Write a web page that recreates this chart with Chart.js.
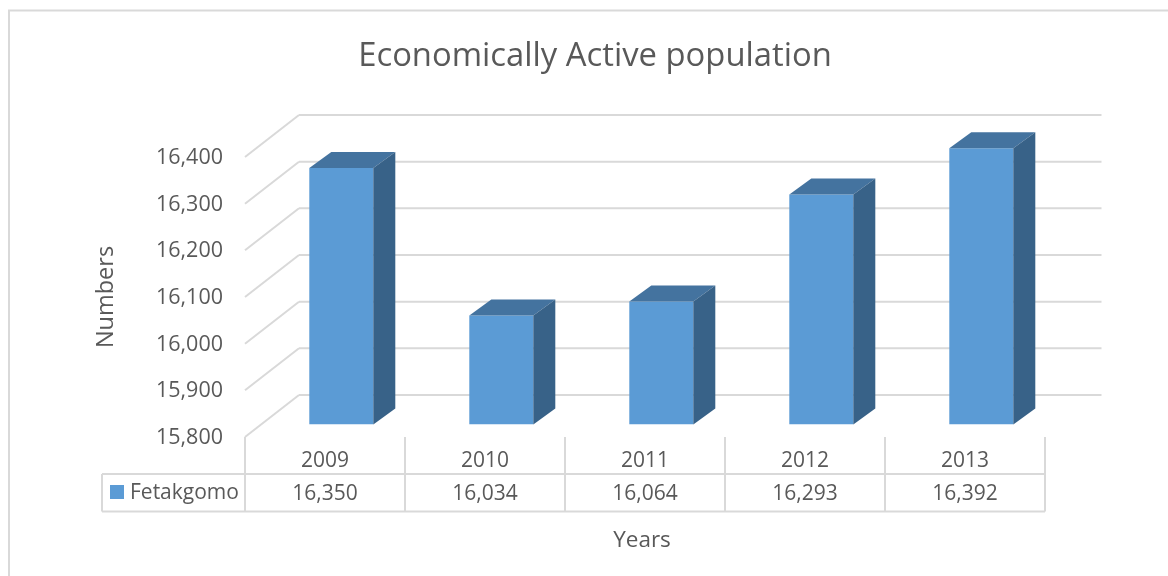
<!DOCTYPE html>
<html>
<head>
<meta charset="utf-8">
<title>Economically Active population</title>
<script src="https://cdn.jsdelivr.net/npm/chart.js@4"></script>
<style>
  html, body { margin: 0; padding: 0; background: #fff; overflow: hidden; }
  canvas { display: block; }
</style>
</head>
<body>
<canvas id="chart" width="1168" height="576"></canvas>
<script>
const years = ['2009', '2010', '2011', '2012', '2013'];
const fetakgomo = [16350, 16034, 16064, 16293, 16392];
const seriesName = 'Fetakgomo';
const chartTitle = 'Economically Active population';
const yTicks = [15800, 15900, 16000, 16100, 16200, 16300, 16400];

const textColor = '#595959';
const gridColor = '#d9d9d9';
const fontName = '"Open Sans", sans-serif';

// 3D look: how far the back wall and the bars sit from the front plane
const wallDx = 54, wallDy = -42;
const barDx = 16.3, barDy = -12.4;
const depthDx = 22, depthDy = -16;

function line(ctx, x1, y1, x2, y2) {
  ctx.beginPath();
  ctx.moveTo(x1, y1);
  ctx.lineTo(x2, y2);
  ctx.stroke();
}

function face(ctx, points, color) {
  ctx.fillStyle = color;
  ctx.beginPath();
  points.forEach((p, i) => i ? ctx.lineTo(p[0], p[1]) : ctx.moveTo(p[0], p[1]));
  ctx.closePath();
  ctx.fill();
}

const fake3d = {
  id: 'fake3d',
  beforeDraw(chart) {
    // outer frame, only top and left show in the picture
    const ctx = chart.ctx;
    ctx.save();
    ctx.strokeStyle = gridColor;
    ctx.lineWidth = 2;
    line(ctx, 9, 576, 9, 10.5);
    line(ctx, 8, 10.5, 1168, 10.5);
    ctx.restore();
  },
  beforeDatasetsDraw(chart) {
    const ctx = chart.ctx;
    const area = chart.chartArea;
    const y = chart.scales.y;
    ctx.save();
    ctx.strokeStyle = gridColor;
    ctx.lineWidth = 2;
    yTicks.forEach(t => {
      const py = y.getPixelForValue(t);
      line(ctx, area.left, py, area.left + wallDx, py + wallDy);
      line(ctx, area.left + wallDx, py + wallDy, 1101.5, py + wallDy);
    });
    ctx.restore();
    // the library draws the front of the bars, moved to mid depth
    ctx.save();
    ctx.translate(barDx, barDy);
  },
  afterDatasetsDraw(chart) {
    const ctx = chart.ctx;
    ctx.restore();
    const meta = chart.getDatasetMeta(0);
    meta.data.forEach(bar => {
      const props = bar.getProps(['x', 'y', 'base', 'width'], true);
      const l = props.x - props.width / 2 + barDx;
      const r = props.x + props.width / 2 + barDx;
      const t = props.y + barDy;
      const b = props.base + barDy;
      face(ctx, [[l, t], [l + depthDx, t + depthDy], [r + depthDx, t + depthDy], [r, t]], '#44739f');
      face(ctx, [[r, t], [r + depthDx, t + depthDy], [r + depthDx, b + depthDy], [r, b]], '#386288');
    });
  },
  afterDraw(chart) {
    // data table under the axis
    const ctx = chart.ctx;
    const area = chart.chartArea;
    const x = chart.scales.x;
    const rowTop = 474, rowBottom = 511.5, tableLeft = 102;
    ctx.save();
    ctx.strokeStyle = gridColor;
    ctx.lineWidth = 2;
    line(ctx, tableLeft, rowTop, area.right, rowTop);
    line(ctx, tableLeft, rowBottom, area.right, rowBottom);
    line(ctx, tableLeft, rowTop, tableLeft, rowBottom);
    const step = (area.right - area.left) / years.length;
    for (let i = 0; i <= years.length; i++) {
      line(ctx, area.left + i * step, area.bottom, area.left + i * step, rowBottom);
    }
    ctx.fillStyle = '#5b9bd5';
    ctx.fillRect(110, 485, 14, 14);
    ctx.fillStyle = textColor;
    ctx.font = '21px ' + fontName;
    ctx.textBaseline = 'middle';
    ctx.textAlign = 'left';
    ctx.fillText(seriesName, 130, 493);
    ctx.textAlign = 'center';
    fetakgomo.forEach((v, i) => {
      ctx.fillText(v.toLocaleString('en-US'), x.getPixelForTick(i), 494);
    });
    ctx.font = '22.5px ' + fontName;
    ctx.fillText('Years', 642, 541);
    ctx.font = '32.8px ' + fontName;
    ctx.fillText(chartTitle, 595, 57);
    ctx.restore();
  }
};

new Chart(document.getElementById('chart').getContext('2d'), {
  type: 'bar',
  data: {
    labels: years,
    datasets: [{
      label: seriesName,
      data: fetakgomo,
      base: 15800,
      backgroundColor: '#5b9bd5',
      barPercentage: 0.4,
      categoryPercentage: 1
    }]
  },
  options: {
    responsive: false,
    animation: false,
    devicePixelRatio: 1,
    layout: { padding: { top: 157, left: 22, right: 123 } },
    plugins: {
      legend: { display: false },
      tooltip: { enabled: false }
    },
    scales: {
      x: {
        grid: { display: false },
        border: { display: false },
        ticks: {
          color: textColor,
          font: { family: fontName, size: 21 },
          padding: 3,
          maxRotation: 0
        },
        afterFit(scale) { scale.height = 576 - 437; }
      },
      y: {
        min: 15800,
        max: 16400,
        afterBuildTicks(scale) { scale.ticks = yTicks.map(v => ({ value: v })); },
        grid: { display: false },
        border: { display: false },
        ticks: {
          color: textColor,
          font: { family: fontName, size: 21.5 },
          padding: 14,
          labelOffset: 1,
          callback: v => v.toLocaleString('en-US')
        },
        title: {
          display: true,
          text: 'Numbers',
          color: textColor,
          font: { family: fontName, size: 23.5 },
          padding: { top: 70, bottom: 0 }
        },
        afterFit(scale) { scale.width = 223; }
      }
    }
  },
  plugins: [fake3d]
});
</script>
</body>
</html>
